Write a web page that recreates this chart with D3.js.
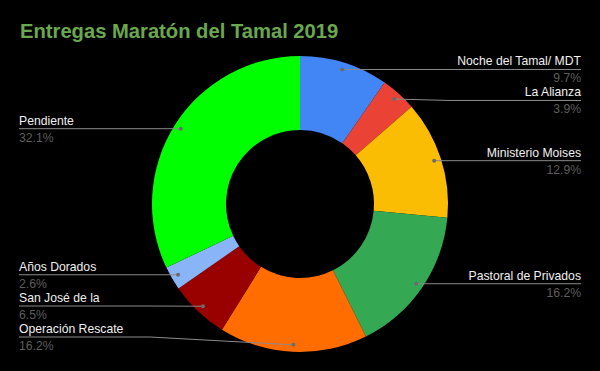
<!DOCTYPE html>
<html lang="es">
<head>
    <meta charset="utf-8">
    <title>Entregas Maratón del Tamal 2019</title>
    <style>
        body { margin: 0; background-color: #000; }
        svg { display: block; }
        text { font-family: Arial, 'Liberation Sans', sans-serif; }
    </style>
    <script src="https://d3js.org/d3.v7.min.js" charset="utf-8"></script>
</head>
<body>
    <svg id="chart" width="600" height="371"></svg>

    <script type="text/javascript">
    var labels = ["Noche del Tamal/ MDT", "La Alianza", "Ministerio Moises", "Pastoral de Privados",
                  "Operación Rescate", "San José de la", "Años Dorados", "Pendiente"];
    var values = [9.7, 3.9, 12.9, 16.2, 16.2, 6.5, 2.6, 32.1];
    var colors = ["#4285f4", "#ea4335", "#fbbc04", "#34a853",
                  "#ff6d01", "#990000", "#8ab4f8", "#00ff00"];

    var width = 600, height = 371;
    var cx = 300, cy = 204;
    var outerR = 148, innerR = 74, dotR = 141;
    var rowGap = 31;

    var svg = d3.select("#chart");

    svg.append("rect")
        .attr("width", width)
        .attr("height", height)
        .attr("fill", "#000");

    svg.append("text")
        .attr("x", 20)
        .attr("y", 38)
        .attr("fill", "#6aa84f")
        .attr("font-size", "20.2px")
        .attr("font-weight", "bold")
        .text("Entregas Maratón del Tamal 2019");

    var pie = d3.pie().sort(null).value(d => d.value);
    var arc = d3.arc().innerRadius(innerR).outerRadius(outerR);

    var data = labels.map((l, i) => ({ label: l, value: values[i], color: colors[i] }));
    var arcs = pie(data);

    var g = svg.append("g").attr("transform", "translate(" + cx + "," + cy + ")");

    g.selectAll("path")
        .data(arcs)
        .join("path")
        .attr("d", arc)
        .attr("fill", d => d.data.color);

    // where each leader line starts (middle of slice)
    var items = arcs.map(function(a) {
        var mid = (a.startAngle + a.endAngle) / 2;
        return {
            a: a,
            x: cx + dotR * Math.sin(mid),
            y: cy - dotR * Math.cos(mid),
            right: mid < Math.PI
        };
    });

    // right side: push down
    var right = items.filter(d => d.right).sort((p, q) => p.y - q.y);
    var prev = -Infinity;
    right.forEach(function(d) {
        d.ly = Math.max(d.y, prev + rowGap);
        prev = d.ly;
    });

    // left side: push up from bottom limit
    var left = items.filter(d => !d.right).sort((p, q) => q.y - p.y);
    prev = 337 + rowGap;
    left.forEach(function(d) {
        d.ly = Math.min(d.y, prev - rowGap);
        prev = d.ly;
    });

    var fmt = d3.format(".1f");

    items.forEach(function(d) {
        var bendX = d.right ? cx + outerR + 2 : cx - outerR - 2;
        var endX = d.right ? 581 : 19;

        svg.append("polyline")
            .attr("points", [[d.x, d.y], [bendX, d.ly], [endX, d.ly]].map(p => p.join(",")).join(" "))
            .attr("fill", "none")
            .attr("stroke", "#8a8a8a")
            .attr("stroke-width", 1);

        svg.append("circle")
            .attr("cx", d.x)
            .attr("cy", d.y)
            .attr("r", 2)
            .attr("fill", "#6b6b6b");

        svg.append("text")
            .attr("x", endX)
            .attr("y", d.ly - 4)
            .attr("text-anchor", d.right ? "end" : "start")
            .attr("fill", "#f0f0f0")
            .attr("font-size", "12.2px")
            .text(d.a.data.label);

        svg.append("text")
            .attr("x", endX)
            .attr("y", d.ly + 13)
            .attr("text-anchor", d.right ? "end" : "start")
            .attr("fill", "#5e5e5e")
            .attr("font-size", "12.2px")
            .text(fmt(d.a.data.value) + "%");
    });
    </script>
</body>
</html>
